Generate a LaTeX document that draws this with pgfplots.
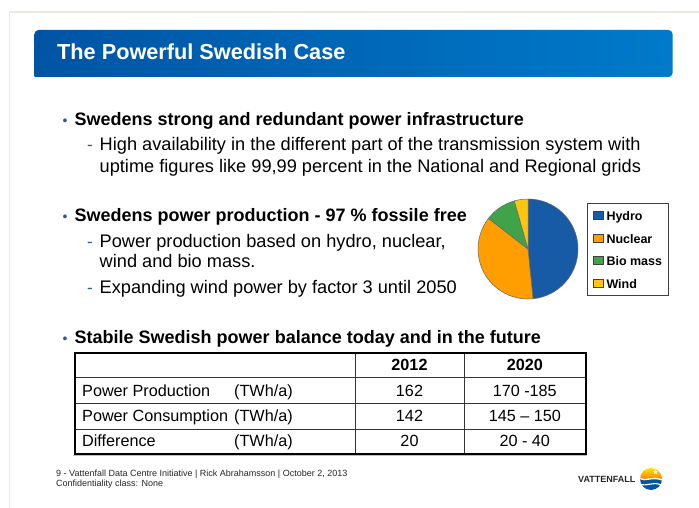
\documentclass[border=0pt]{standalone}
\usepackage{pgfplots}
\pgfplotsset{compat=1.18}
\usepackage{pgfplotstable}
\usepackage{fontspec}
\setmainfont{Liberation Sans}
\usetikzlibrary{shapes.geometric}

\definecolor{barL}{RGB}{0,84,164}
\definecolor{barR}{RGB}{0,122,202}
\definecolor{bulletblue}{RGB}{40,90,160}
\definecolor{hydro}{RGB}{23,90,165}
\definecolor{nuclear}{RGB}{255,158,0}
\definecolor{biomass}{RGB}{64,163,74}
\definecolor{wind}{RGB}{255,196,14}
\definecolor{frame}{RGB}{236,233,222}

% share of production, percent, clockwise from 12 o'clock
\pgfplotstableread{
source share
Hydro 48.4
Nuclear 37.1
Biomass 10.1
Wind 4.4
}\piedata

\newcommand{\fs}[1]{\fontsize{#1pt}{#1pt}\selectfont}

\begin{document}
\begin{tikzpicture}[x=1pt,y=1pt]
\useasboundingbox (0,0) rectangle (699,-508);
\fill[white] (0,0) rectangle (699,-508);
\draw[frame, line width=1.2pt] (9.5,-508) -- (9.5,-12) -- (699,-12);

% title bar
\shade[left color=barL, right color=barR] [rounded corners=4pt] (34.5,-77) -- (34.5,-30) -- (672.5,-30) -- (672.5,-77) [sharp corners] -- cycle;
\node[anchor=base west, inner sep=0pt, text=white, font=\bfseries\fs{21.7}] at (57,-60) {The Powerful Swedish Case};

% bullets
\tikzset{bul/.style={anchor=base, inner sep=0pt, text=bulletblue, font=\fs{14}},
         dsh/.style={anchor=base, inner sep=0pt, text=bulletblue, font=\fs{17}},
         hd/.style={anchor=base west, inner sep=0pt, font=\bfseries\fs{18}},
         tx/.style={anchor=base west, inner sep=0pt, font=\fs{18.2}}}
\node[bul] at (65,-126) {\textbullet};
\node[hd] at (74.5,-126) {Swedens strong and redundant power infrastructure};
\node[dsh] at (90,-151) {-};
\node[tx] at (99.5,-151) {High availability in the different part of the transmission system with};
\node[tx] at (99.5,-172) {uptime figures like 99,99 percent in the National and Regional grids};

\node[bul] at (65,-221) {\textbullet};
\node[hd] at (74.5,-221) {Swedens power production - 97 \% fossile free};
\node[dsh] at (90,-247) {-};
\node[tx] at (99.5,-247) {Power production based on hydro, nuclear,};
\node[tx] at (99.5,-267) {wind and bio mass.};
\node[dsh] at (90,-293) {-};
\node[tx] at (99.5,-293) {Expanding wind power by factor 3 until 2050};

\node[bul] at (65,-343) {\textbullet};
\node[hd] at (74.5,-343) {Stabile Swedish power balance today and in the future};

% pie chart
\coordinate (piec) at (528,-249);
\begin{axis}[at={(piec)}, anchor=center, scale only axis,
  width=100pt, height=100pt, xmin=-1, xmax=1, ymin=-1, ymax=1,
  hide axis, clip=false,
  legend style={at={(1.09,0.96)}, anchor=north west, draw=black!75, line width=0.8pt,
    font=\bfseries\fs{12.5}, inner xsep=6pt, inner ysep=6.5pt, row sep=11pt,
    column sep=2.5pt, nodes={inner sep=0pt, text height=11pt, text depth=0.5pt}},
  legend cell align=left,
  legend image code/.code={\draw[#1, draw=black!75, line width=0.6pt] (0pt,-4pt) rectangle (10pt,4pt);}]
\pgfplotsextra{%
  \xdef\startang{90}%
  \foreach \i/\col in {0/hydro,1/nuclear,2/biomass,3/wind}{%
    \pgfplotstablegetelem{\i}{share}\of\piedata
    \pgfmathsetmacro\endang{\startang-3.6*\pgfplotsretval}%
    \filldraw[fill=\col, draw=black!60, line width=0.5pt] (axis cs:0,0) -- ++(\startang:50pt)
      arc[start angle=\startang, end angle=\endang, radius=50pt] -- cycle;
    \xdef\startang{\endang}%
  }%
}
\addlegendimage{fill=hydro}\addlegendentry{Hydro}
\addlegendimage{fill=nuclear}\addlegendentry{Nuclear}
\addlegendimage{fill=biomass}\addlegendentry{Bio mass}
\addlegendimage{fill=wind}\addlegendentry{Wind}
\end{axis}

% table
\draw[black!80, line width=1pt] (75,-377.7) -- (585.5,-377.7) (75,-403.3) -- (585.5,-403.3) (75,-429.3) -- (585.5,-429.3);
\draw[black!80, line width=1pt] (355,-352.7) -- (355,-454.3) (464,-352.7) -- (464,-454.3);
\draw[black, line width=2pt] (75,-352.7) rectangle (585.5,-454.3);
\tikzset{tc/.style={anchor=base, inner sep=0pt, font=\fs{16.2}},
         tl/.style={anchor=base west, inner sep=0pt, font=\fs{16.2}}}
\node[tc, font=\bfseries\fs{16.2}] at (409.5,-370.7) {2012};
\node[tc, font=\bfseries\fs{16.2}] at (524.8,-370.7) {2020};
\node[tl] at (82,-396) {Power Production};
\node[tl] at (82,-421.7) {Power Consumption};
\node[tl] at (82,-446.7) {Difference};
\node[tl] at (234,-396) {(TWh/a)};
\node[tl] at (234,-421.7) {(TWh/a)};
\node[tl] at (234,-446.7) {(TWh/a)};
\node[tc] at (409.5,-396) {162};
\node[tc] at (409.5,-421.7) {142};
\node[tc] at (409.5,-446.7) {20};
\node[tc] at (524.8,-396) {170 -185};
\node[tc] at (524.8,-421.7) {145 – 150};
\node[tc] at (524.8,-446.7) {20 - 40};

% footer
\draw[black!25, line width=1.5pt] (73,-455.5) -- (587,-455.5);
\node[anchor=base west, inner sep=0pt, text=black!85, font=\fs{9}] at (56,-476) {9 - Vattenfall Data Centre Initiative | Rick Abrahamsson | October 2, 2013};
\node[anchor=base west, inner sep=0pt, text=black!85, font=\fs{9}] at (56,-486.5) {Confidentiality class: None};

% logo
\node[anchor=base west, inner sep=0pt, text=black!85, font=\bfseries\fs{9}] at (578,-482.5) {VATTENFALL};
\begin{scope}[shift={(651,-479)}]
  \shade[top color=yellow!80!orange, bottom color=orange] (-11,0) arc[start angle=180, end angle=0, radius=11] -- cycle;
  \node[star, star points=5, star point ratio=2.3, fill=white, inner sep=0pt, minimum size=5pt] at (4.5,7) {};
  \fill[barL] (-11,0) arc[start angle=180, end angle=360, radius=11] -- cycle;
  \draw[white, line width=1.3pt] (-11.5,0.5) .. controls (-5,-3) and (0,3) .. (11.5,-1);
  \draw[white, line width=1.1pt] (-11,-5) .. controls (-4,-8) and (2,-2) .. (10,-6);
\end{scope}
\end{tikzpicture}
\end{document}
